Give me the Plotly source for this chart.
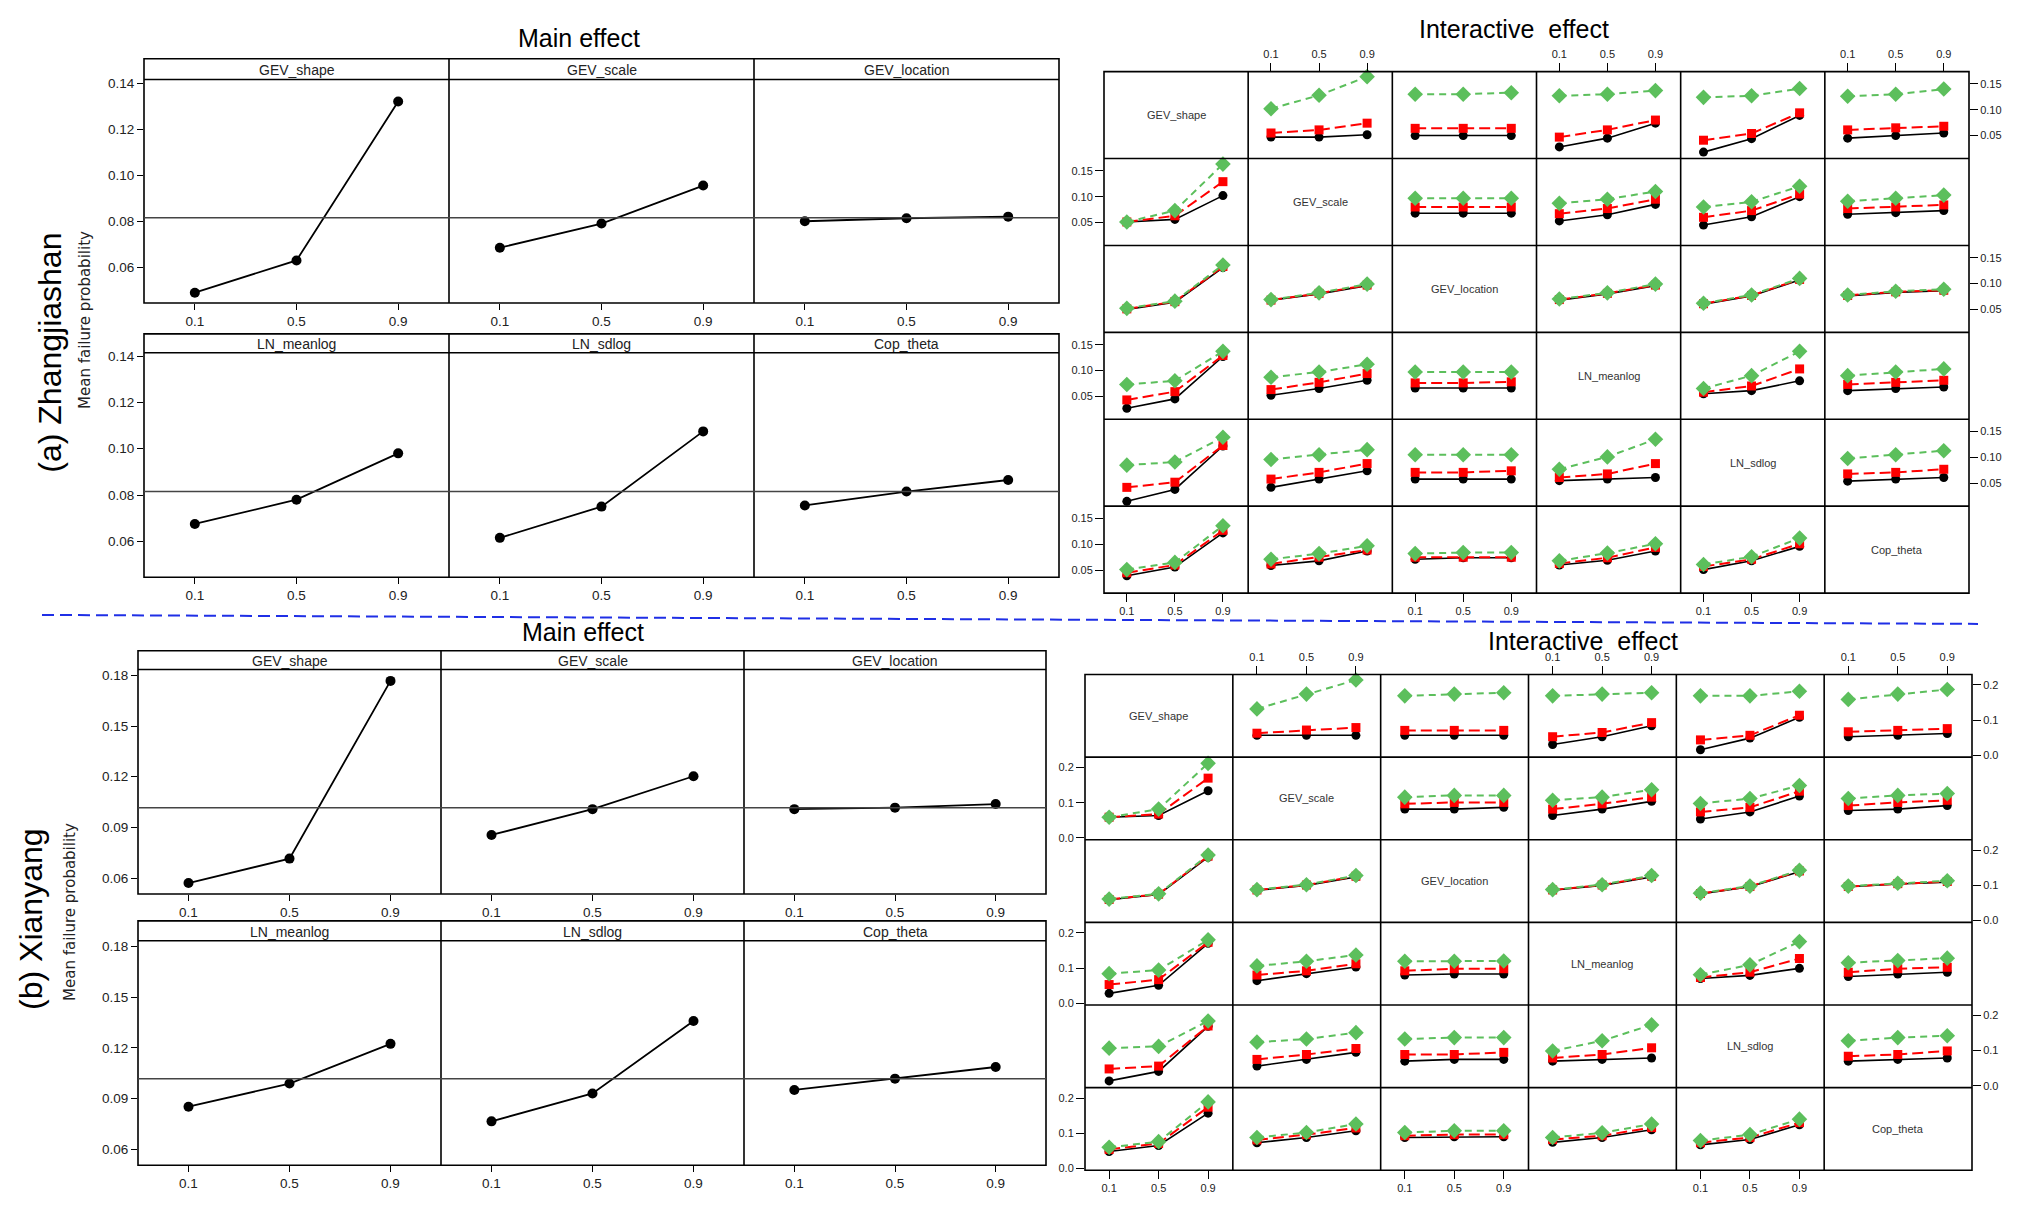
import plotly.graph_objects as go

W, H = 2019, 1211
OFF = 8                      # browser body margin
FW, FH = W - 2 * OFF, H - 2 * OFF

params = ['GEV_shape', 'GEV_scale', 'GEV_location', 'LN_meanlog', 'LN_sdlog', 'Cop_theta']
levels = [0.1, 0.5, 0.9]
level_text = ['0.1', '0.5', '0.9']

# main effect - Zhangjiashan
zh_main = [
    [0.049, 0.063, 0.132],
    [0.0685, 0.079, 0.0955],
    [0.080, 0.0813, 0.082],
    [0.0675, 0.078, 0.098],
    [0.0615, 0.075, 0.1075],
    [0.0755, 0.0815, 0.0865],
]
zh_mean = 0.0815

# main effect - Xianyang
xy_main = [
    [0.057, 0.0715, 0.1768],
    [0.0855, 0.1008, 0.1203],
    [0.1008, 0.1017, 0.1038],
    [0.0852, 0.0989, 0.1224],
    [0.0765, 0.093, 0.1359],
    [0.0951, 0.1018, 0.1087],
]
xy_mean = 0.1017

# interactive effect: row = grouping parameter (0.1 / 0.5 / 0.9), column = x parameter
zh_low = [
    [None, [0.047, 0.047, 0.0515], [0.050, 0.050, 0.050], [0.028, 0.045, 0.074], [0.018, 0.044, 0.089], [0.045, 0.050, 0.055]],
    [[0.051, 0.056, 0.102], None, [0.068, 0.068, 0.068], [0.053, 0.065, 0.085], [0.045, 0.061, 0.100], [0.066, 0.069, 0.073]],
    [[0.050, 0.064, 0.131], [0.068, 0.080, 0.096], None, [0.068, 0.080, 0.096], [0.060, 0.076, 0.107], [0.076, 0.083, 0.086]],
    [[0.027, 0.045, 0.127], [0.052, 0.065, 0.081], [0.066, 0.066, 0.066], None, [0.055, 0.061, 0.080], [0.061, 0.065, 0.068]],
    [[0.015, 0.038, 0.122], [0.042, 0.058, 0.074], [0.058, 0.058, 0.058], [0.055, 0.058, 0.061], None, [0.054, 0.058, 0.061]],
    [[0.039, 0.056, 0.122], [0.059, 0.068, 0.087], [0.071, 0.074, 0.074], [0.060, 0.069, 0.087], [0.051, 0.068, 0.096], None],
]
zh_mid = [
    [None, [0.055, 0.061, 0.074], [0.064, 0.064, 0.064], [0.047, 0.061, 0.080], [0.041, 0.054, 0.094], [0.061, 0.065, 0.068]],
    [[0.051, 0.063, 0.129], None, [0.080, 0.080, 0.080], [0.067, 0.077, 0.095], [0.060, 0.073, 0.105], [0.077, 0.080, 0.084]],
    [[0.051, 0.065, 0.133], [0.068, 0.081, 0.097], None, [0.069, 0.081, 0.097], [0.061, 0.077, 0.108], [0.077, 0.084, 0.087]],
    [[0.043, 0.059, 0.129], [0.063, 0.077, 0.094], [0.076, 0.076, 0.078], None, [0.058, 0.070, 0.103], [0.073, 0.077, 0.081]],
    [[0.042, 0.052, 0.123], [0.058, 0.071, 0.088], [0.071, 0.071, 0.074], [0.061, 0.068, 0.088], None, [0.068, 0.071, 0.077]],
    [[0.045, 0.060, 0.127], [0.062, 0.075, 0.089], [0.075, 0.075, 0.075], [0.063, 0.074, 0.094], [0.057, 0.071, 0.101], None],
]
zh_high = [
    [None, [0.102, 0.128, 0.164], [0.130, 0.130, 0.133], [0.127, 0.130, 0.137], [0.124, 0.127, 0.141], [0.126, 0.130, 0.140]],
    [[0.051, 0.073, 0.163], None, [0.097, 0.097, 0.097], [0.087, 0.095, 0.110], [0.080, 0.090, 0.120], [0.091, 0.097, 0.103]],
    [[0.052, 0.066, 0.136], [0.069, 0.082, 0.099], None, [0.070, 0.082, 0.099], [0.062, 0.078, 0.110], [0.078, 0.085, 0.089]],
    [[0.073, 0.080, 0.137], [0.087, 0.097, 0.112], [0.097, 0.097, 0.097], None, [0.065, 0.090, 0.137], [0.090, 0.097, 0.103]],
    [[0.085, 0.091, 0.139], [0.096, 0.105, 0.115], [0.105, 0.105, 0.105], [0.077, 0.101, 0.135], None, [0.098, 0.105, 0.113]],
    [[0.051, 0.065, 0.136], [0.071, 0.082, 0.097], [0.082, 0.084, 0.084], [0.068, 0.083, 0.101], [0.061, 0.076, 0.112], None],
]

xy_low = [
    [None, [0.057, 0.057, 0.057], [0.057, 0.057, 0.057], [0.031, 0.053, 0.084], [0.016, 0.049, 0.108], [0.053, 0.057, 0.062]],
    [[0.059, 0.064, 0.134], None, [0.082, 0.082, 0.087], [0.064, 0.082, 0.104], [0.054, 0.074, 0.119], [0.078, 0.082, 0.092]],
    [[0.059, 0.074, 0.180], [0.086, 0.100, 0.124], None, [0.086, 0.100, 0.124], [0.076, 0.096, 0.139], [0.096, 0.104, 0.109]],
    [[0.028, 0.051, 0.170], [0.064, 0.084, 0.103], [0.080, 0.083, 0.083], None, [0.070, 0.079, 0.099], [0.076, 0.083, 0.088]],
    [[0.014, 0.041, 0.169], [0.056, 0.075, 0.095], [0.070, 0.075, 0.075], [0.070, 0.075, 0.079], None, [0.070, 0.075, 0.079]],
    [[0.048, 0.065, 0.157], [0.073, 0.088, 0.107], [0.088, 0.090, 0.090], [0.074, 0.088, 0.110], [0.067, 0.082, 0.124], None],
]
xy_mid = [
    [None, [0.063, 0.072, 0.079], [0.071, 0.071, 0.071], [0.053, 0.065, 0.093], [0.044, 0.057, 0.114], [0.067, 0.071, 0.076]],
    [[0.059, 0.068, 0.170], None, [0.097, 0.101, 0.101], [0.082, 0.097, 0.116], [0.074, 0.087, 0.133], [0.092, 0.101, 0.107]],
    [[0.060, 0.075, 0.183], [0.087, 0.101, 0.126], None, [0.087, 0.101, 0.126], [0.077, 0.097, 0.141], [0.097, 0.105, 0.111]],
    [[0.053, 0.067, 0.173], [0.080, 0.092, 0.112], [0.092, 0.098, 0.098], None, [0.073, 0.088, 0.127], [0.088, 0.098, 0.102]],
    [[0.048, 0.056, 0.170], [0.075, 0.089, 0.106], [0.089, 0.089, 0.095], [0.079, 0.089, 0.108], None, [0.084, 0.089, 0.099]],
    [[0.054, 0.071, 0.174], [0.081, 0.096, 0.115], [0.093, 0.096, 0.096], [0.082, 0.093, 0.116], [0.073, 0.088, 0.130], None],
]
xy_high = [
    [None, [0.132, 0.174, 0.214], [0.169, 0.174, 0.178], [0.169, 0.174, 0.178], [0.169, 0.169, 0.182], [0.159, 0.174, 0.187]],
    [[0.059, 0.082, 0.212], None, [0.116, 0.121, 0.121], [0.107, 0.116, 0.137], [0.098, 0.112, 0.149], [0.112, 0.121, 0.126]],
    [[0.061, 0.076, 0.186], [0.088, 0.102, 0.128], None, [0.088, 0.102, 0.128], [0.078, 0.098, 0.143], [0.098, 0.106, 0.113]],
    [[0.084, 0.094, 0.180], [0.106, 0.119, 0.137], [0.119, 0.119, 0.120], None, [0.081, 0.109, 0.175], [0.115, 0.121, 0.128]],
    [[0.107, 0.112, 0.184], [0.124, 0.133, 0.151], [0.133, 0.137, 0.137], [0.099, 0.128, 0.173], None, [0.128, 0.137, 0.142]],
    [[0.060, 0.076, 0.189], [0.088, 0.102, 0.126], [0.102, 0.107, 0.107], [0.088, 0.101, 0.126], [0.079, 0.096, 0.140], None],
]

zh_main_ticks = [0.06, 0.08, 0.10, 0.12, 0.14]
zh_main_ticktext = ['0.06', '0.08', '0.10', '0.12', '0.14']
xy_main_ticks = [0.06, 0.09, 0.12, 0.15, 0.18]
xy_main_ticktext = ['0.06', '0.09', '0.12', '0.15', '0.18']
zh_inter_ticks = [0.05, 0.10, 0.15]
zh_inter_ticktext = ['0.05', '0.10', '0.15']
xy_inter_ticks = [0.0, 0.1, 0.2]
xy_inter_ticktext = ['0.0', '0.1', '0.2']

FONT = 'Arial, Liberation Sans, sans-serif'
GREEN = '#5cbf5c'
RED = '#ff0000'
FRAME = dict(color='black', width=1.6)

fig = go.Figure()
layout = {}
shapes = []
annotations = []
n_axes = [0]


def px(x):
    return (x - OFF) / FW


def py(y):
    return 1 - (y - OFF) / FH


def new_axes(x0, x1, y0, y1, xr, yr, xkw, ykw):
    n_axes[0] += 1
    n = n_axes[0]
    xa = 'x' if n == 1 else 'x%d' % n
    ya = 'y' if n == 1 else 'y%d' % n
    base = dict(showgrid=False, zeroline=False, showline=False, fixedrange=True,
                tickcolor='black', tickwidth=1.2)
    xd = dict(base, domain=[px(x0), px(x1)], range=xr, anchor=ya)
    xd.update(xkw)
    yd = dict(base, domain=[py(y1), py(y0)], range=yr, anchor=xa)
    yd.update(ykw)
    layout['xaxis' if n == 1 else 'xaxis%d' % n] = xd
    layout['yaxis' if n == 1 else 'yaxis%d' % n] = yd
    return xa, ya


def text(x, y, s, size, angle=0, color='black', family=FONT):
    annotations.append(dict(x=px(x), y=py(y), xref='paper', yref='paper', text=s,
                            showarrow=False, textangle=angle, xanchor='center',
                            yanchor='middle',
                            font=dict(family=family, size=size, color=color)))


def line(x0, y0, x1, y1, style=FRAME):
    shapes.append(dict(type='line', xref='paper', yref='paper', x0=px(x0), x1=px(x1),
                       y0=py(y0), y1=py(y1), line=style, layer='above'))


def rect(x0, y0, x1, y1):
    shapes.append(dict(type='rect', xref='paper', yref='paper', x0=px(x0), x1=px(x1),
                       y0=py(y1), y1=py(y0), line=FRAME, layer='above'))


def main_block(vals, mean, cols, rows, yr, tv, tt, title_xy):
    text(title_xy[0], title_xy[1], 'Main effect', 25)
    tf = dict(family=FONT, size=13.5, color='#222')
    k = 0
    for r, (s0, s1, b) in enumerate(rows):
        rect(cols[0], s0, cols[3], b)
        line(cols[0], s1, cols[3], s1)
        line(cols[1], s0, cols[1], b)
        line(cols[2], s0, cols[2], b)
        for c in range(3):
            x0, x1 = cols[c], cols[c + 1]
            xkw = dict(tickmode='array', tickvals=levels, ticktext=level_text,
                       ticks='outside', ticklen=6, side='bottom', tickfont=tf)
            if c == 0:
                ykw = dict(tickmode='array', tickvals=tv, ticktext=tt, ticks='outside',
                           ticklen=6, tickfont=tf)
            else:
                ykw = dict(showticklabels=False, ticks='')
            xa, ya = new_axes(x0, x1, s1, b, [-0.1, 1.1], yr, xkw, ykw)
            text((x0 + x1) / 2, (s0 + s1) / 2 + 1, params[k], 14, color='#222')
            shapes.append(dict(type='line', xref=xa + ' domain', yref=ya, x0=0, x1=1,
                               y0=mean, y1=mean, line=dict(color='#444', width=1.5)))
            fig.add_trace(go.Scatter(x=levels, y=vals[k], mode='lines+markers',
                                     line=dict(color='black', width=1.8),
                                     marker=dict(color='black', size=10),
                                     xaxis=xa, yaxis=ya, showlegend=False,
                                     hoverinfo='skip'))
            k += 1


def inter_block(low, mid, high, gx0, gx1, gy0, gy1, xr, yr, tv, tt, title_xy):
    text(title_xy[0], title_xy[1], 'Interactive  effect', 25)
    cw = (gx1 - gx0) / 6.0
    ch = (gy1 - gy0) / 6.0
    rect(gx0, gy0, gx1, gy1)
    for i in range(1, 6):
        line(gx0 + i * cw, gy0, gx0 + i * cw, gy1)
        line(gx0, gy0 + i * ch, gx1, gy0 + i * ch)
    tf = dict(family=FONT, size=11, color='#222')
    for r in range(6):
        for c in range(6):
            x0 = gx0 + c * cw
            y0 = gy0 + r * ch
            if r == c:
                text(x0 + cw / 2, y0 + ch / 2, params[r], 11, color='#333')
            xkw = dict(showticklabels=False, ticks='')
            ykw = dict(showticklabels=False, ticks='')
            if r == 0 and c % 2 == 1:
                xkw = dict(side='top', tickmode='array', tickvals=levels, ticktext=level_text,
                           ticks='outside', ticklen=8, tickfont=tf)
            if r == 5 and c % 2 == 0:
                xkw = dict(side='bottom', tickmode='array', tickvals=levels, ticktext=level_text,
                           ticks='outside', ticklen=8, tickfont=tf)
            if c == 0 and r % 2 == 1:
                ykw = dict(side='left', tickmode='array', tickvals=tv, ticktext=tt,
                           ticks='outside', ticklen=8, tickfont=tf)
            if c == 5 and r % 2 == 0:
                ykw = dict(side='right', tickmode='array', tickvals=tv, ticktext=tt,
                           ticks='outside', ticklen=8, tickfont=tf)
            xa, ya = new_axes(x0, x0 + cw, y0, y0 + ch, xr, yr, xkw, ykw)
            if r == c:
                # empty placeholder keeps the axis ticks of diagonal cells
                fig.add_trace(go.Scatter(x=[None], y=[None], mode='markers', xaxis=xa,
                                         yaxis=ya, showlegend=False, hoverinfo='skip'))
                continue
            styles = [
                (low[r][c], dict(color='black', width=1.6), dict(color='black', size=9, symbol='circle')),
                (mid[r][c], dict(color=RED, width=2, dash='11px,5px'), dict(color=RED, size=9, symbol='square')),
                (high[r][c], dict(color=GREEN, width=2, dash='7px,5px'), dict(color=GREEN, size=12, symbol='diamond')),
            ]
            for ys, ln, mk in styles:
                fig.add_trace(go.Scatter(x=levels, y=ys, mode='lines+markers', line=ln,
                                         marker=mk, xaxis=xa, yaxis=ya, showlegend=False,
                                         hoverinfo='skip', cliponaxis=False))


# (a) Zhangjiashan
main_block(zh_main, zh_mean, [144, 449, 754, 1059],
           [(55, 76, 301), (332, 351, 577)], [0.0445, 0.1415],
           zh_main_ticks, zh_main_ticktext, (579, 34))
inter_block(zh_low, zh_mid, zh_high, 1104, 1969, 68, 593, [-0.09, 1.11], [0.0056, 0.1738],
            zh_inter_ticks, zh_inter_ticktext, (1514, 25))
text(50, 351, '(a) Zhangjiashan', 32, angle=-90)
text(85, 318, 'Mean failure probability', 15, angle=-90, color='#222',
     family='DejaVu Sans, Verdana, sans-serif')

# (b) Xianyang
main_block(xy_main, xy_mean, [138, 441, 744, 1046],
           [(651, 670, 896), (923, 943, 1169)], [0.0505, 0.1835],
           xy_main_ticks, xy_main_ticktext, (583, 632))
inter_block(xy_low, xy_mid, xy_high, 1085, 1972, 675, 1174, [-0.095, 1.1], [-0.005, 0.2296],
            xy_inter_ticks, xy_inter_ticktext, (1583, 641))
text(31, 922, '(b) Xianyang', 32, angle=-90)
text(70, 914, 'Mean failure probability', 15, angle=-90, color='#222',
     family='DejaVu Sans, Verdana, sans-serif')

# separator between the two sites
line(42, 615, 1978, 624, dict(color='#1f2fe6', width=2, dash='12px,6px'))

layout.update(width=FW, height=FH, margin=dict(l=0, r=0, t=0, b=0),
              plot_bgcolor='rgba(0,0,0,0)', paper_bgcolor='white',
              shapes=shapes, annotations=annotations, hovermode=False,
              font=dict(family=FONT))
fig.update_layout(**layout)
fig.write_html('out.html')
